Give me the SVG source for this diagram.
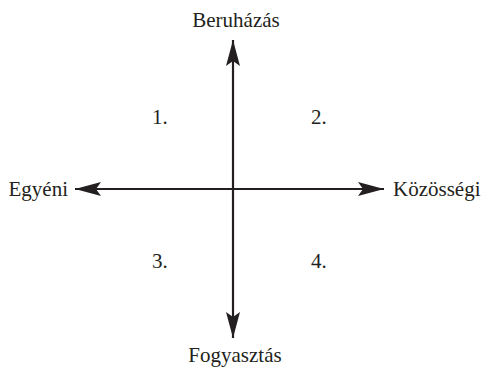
<svg xmlns="http://www.w3.org/2000/svg" width="482" height="368" viewBox="0 0 482 368">
<defs>
<style>
text{font-family:"Liberation Serif","Times New Roman",serif;font-size:21px;fill:#231f20}
.ax{stroke:#231f20;stroke-width:2.2;fill:none}
</style>
<marker id="ah" viewBox="0 0 26 14" refX="26" refY="7" markerWidth="26" markerHeight="14" markerUnits="userSpaceOnUse" orient="auto">
<path d="M0,0 L26,7 L0,14 L5,7 Z" fill="#231f20"/>
</marker>
</defs>
<rect width="482" height="368" fill="#fff"/>
<g id="connectors">
<line class="ax" x1="233" y1="189" x2="233" y2="40" marker-end="url(#ah)"/>
<line class="ax" x1="233" y1="189" x2="233" y2="338" marker-end="url(#ah)"/>
<line class="ax" x1="233" y1="189" x2="75" y2="189" marker-end="url(#ah)"/>
<line class="ax" x1="233" y1="189" x2="384" y2="189" marker-end="url(#ah)"/>
</g>
<g id="beruhazas"><text x="236" y="27" text-anchor="middle">Beruházás</text></g>
<g id="fogyasztas"><text x="235" y="362" text-anchor="middle">Fogyasztás</text></g>
<g id="egyeni"><text x="68" y="196" text-anchor="end">Egyéni</text></g>
<g id="kozossegi"><text x="393" y="196">Közösségi</text></g>
<g id="q1"><text x="152" y="124">1.</text></g>
<g id="q2"><text x="311" y="124">2.</text></g>
<g id="q3"><text x="152" y="268">3.</text></g>
<g id="q4"><text x="311" y="268">4.</text></g>
</svg>
